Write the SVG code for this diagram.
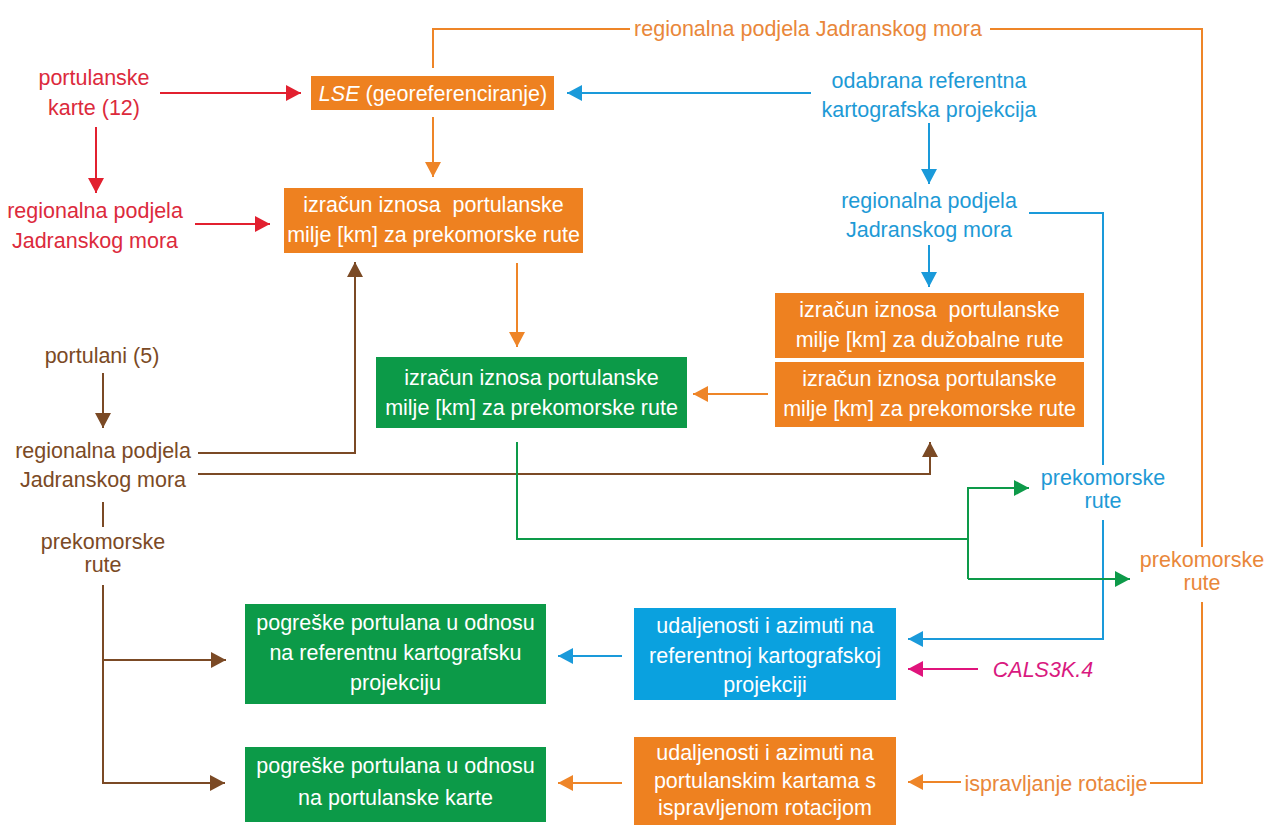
<svg xmlns="http://www.w3.org/2000/svg" width="1265" height="825" viewBox="0 0 1265 825">
<style>
text{font-family:"Liberation Sans",Arial,sans-serif;font-size:21.5px;text-anchor:middle}
.w{fill:#fff}
.red{fill:#DC2A3C}
.or{fill:#E9873A}
.bl{fill:#1E9AD6}
.br{fill:#7B4A25}
.pk{fill:#D9197F}
.c{fill:none;stroke-width:2}
.cr{stroke:#E2202F}
.co{stroke:#EE8528}
.cb{stroke:#1A9ADA}
.cbr{stroke:#7B4A25}
.cg{stroke:#0D9A49}
.cp{stroke:#E0147C}
.bo{fill:#EE8120}
.bg{fill:#0C9A48}
.bb{fill:#0AA1DF}
</style>
<defs>
<marker id="ar" viewBox="0 0 15 16" refX="15" refY="8" markerWidth="15" markerHeight="16" markerUnits="userSpaceOnUse" orient="auto"><path d="M0,0L15,8L0,16z" fill="#E2202F"/></marker>
<marker id="ao" viewBox="0 0 15 16" refX="15" refY="8" markerWidth="15" markerHeight="16" markerUnits="userSpaceOnUse" orient="auto"><path d="M0,0L15,8L0,16z" fill="#EE8528"/></marker>
<marker id="ab" viewBox="0 0 15 16" refX="15" refY="8" markerWidth="15" markerHeight="16" markerUnits="userSpaceOnUse" orient="auto"><path d="M0,0L15,8L0,16z" fill="#1A9ADA"/></marker>
<marker id="abr" viewBox="0 0 15 16" refX="15" refY="8" markerWidth="15" markerHeight="16" markerUnits="userSpaceOnUse" orient="auto"><path d="M0,0L15,8L0,16z" fill="#7B4A25"/></marker>
<marker id="ag" viewBox="0 0 15 16" refX="15" refY="8" markerWidth="15" markerHeight="16" markerUnits="userSpaceOnUse" orient="auto"><path d="M0,0L15,8L0,16z" fill="#0D9A49"/></marker>
<marker id="ap" viewBox="0 0 15 16" refX="15" refY="8" markerWidth="15" markerHeight="16" markerUnits="userSpaceOnUse" orient="auto"><path d="M0,0L15,8L0,16z" fill="#E0147C"/></marker>
</defs>
<rect width="1265" height="825" fill="#fff"/>
<g id="connectors">
<path class="c cr" d="M160,93H301" marker-end="url(#ar)"/>
<path class="c cr" d="M96,127V193" marker-end="url(#ar)"/>
<path class="c cr" d="M195,224H270" marker-end="url(#ar)"/>
<path class="c co" d="M433,68V29H630"/>
<path class="c co" d="M990,29H1202V547"/>
<path class="c co" d="M1202,602V783H1150"/>
<path class="c co" d="M433,117V177" marker-end="url(#ao)"/>
<path class="c co" d="M517,263V347" marker-end="url(#ao)"/>
<path class="c co" d="M768,394H693" marker-end="url(#ao)"/>
<path class="c co" d="M961,782H908" marker-end="url(#ao)"/>
<path class="c co" d="M622,783H558" marker-end="url(#ao)"/>
<path class="c cb" d="M811,93H567" marker-end="url(#ab)"/>
<path class="c cb" d="M929,123V184" marker-end="url(#ab)"/>
<path class="c cb" d="M929,245V287" marker-end="url(#ab)"/>
<path class="c cb" d="M1029,213H1103V465"/>
<path class="c cb" d="M1103,520V639H908" marker-end="url(#ab)"/>
<path class="c cb" d="M622,656H558" marker-end="url(#ab)"/>
<path class="c cbr" d="M103,373V428" marker-end="url(#abr)"/>
<path class="c cbr" d="M198,453H355V262" marker-end="url(#abr)"/>
<path class="c cbr" d="M198,474H930V442" marker-end="url(#abr)"/>
<path class="c cbr" d="M103,502V527"/>
<path class="c cbr" d="M103,585V783H225" marker-end="url(#abr)"/>
<path class="c cbr" d="M103,660H226" marker-end="url(#abr)"/>
<path class="c cg" d="M517,442V539H968"/>
<path class="c cg" d="M968,579V488H1029" marker-end="url(#ag)"/>
<path class="c cg" d="M968,579H1130" marker-end="url(#ag)"/>
<path class="c cp" d="M978,669H908" marker-end="url(#ap)"/>
</g>
<g id="portulanske-karte"><text class="red" x="94" y="85">portulanske</text><text class="red" x="94" y="115">karte (12)</text></g>
<g id="regionalna-red"><text class="red" x="95" y="218">regionalna podjela</text><text class="red" x="95" y="248">Jadranskog mora</text></g>
<g id="lse"><rect class="bo" x="311" y="76" width="243" height="34"/><text class="w" x="433" y="101"><tspan font-style="italic">LSE</tspan> (georeferenciranje)</text></g>
<g id="regionalna-top"><text class="or" x="808" y="36">regionalna podjela Jadranskog mora</text></g>
<g id="odabrana"><text class="bl" x="929" y="88">odabrana referentna</text><text class="bl" x="929" y="117">kartografska projekcija</text></g>
<g id="izracun-1"><rect class="bo" x="284" y="188" width="299" height="65"/><text class="w" x="433.5" y="212" xml:space="preserve">izračun iznosa  portulanske</text><text class="w" x="433.5" y="242">milje [km] za prekomorske rute</text></g>
<g id="regionalna-blue"><text class="bl" x="929" y="208">regionalna podjela</text><text class="bl" x="929" y="237">Jadranskog mora</text></g>
<g id="izracun-duzobalne"><rect class="bo" x="775" y="293" width="309" height="65"/><text class="w" x="929.5" y="317" xml:space="preserve">izračun iznosa  portulanske</text><text class="w" x="929.5" y="347">milje [km] za dužobalne rute</text></g>
<g id="izracun-prekomorske-or"><rect class="bo" x="775" y="362" width="309" height="65"/><text class="w" x="929.5" y="386">izračun iznosa portulanske</text><text class="w" x="929.5" y="416">milje [km] za prekomorske rute</text></g>
<g id="izracun-green"><rect class="bg" x="376" y="357" width="311" height="71"/><text class="w" x="531.5" y="385">izračun iznosa portulanske</text><text class="w" x="531.5" y="415">milje [km] za prekomorske rute</text></g>
<g id="portulani"><text class="br" x="102" y="363">portulani (5)</text></g>
<g id="regionalna-brown"><text class="br" x="103" y="458">regionalna podjela</text><text class="br" x="103" y="487">Jadranskog mora</text></g>
<g id="prekomorske-brown"><text class="br" x="103" y="549">prekomorske</text><text class="br" x="103" y="572">rute</text></g>
<g id="prekomorske-blue"><text class="bl" x="1103" y="485">prekomorske</text><text class="bl" x="1103" y="508">rute</text></g>
<g id="prekomorske-orange"><text class="or" x="1202" y="567">prekomorske</text><text class="or" x="1202" y="590">rute</text></g>
<g id="pogreske-ref"><rect class="bg" x="245" y="604" width="301" height="100"/><text class="w" x="395.5" y="630">pogreške portulana u odnosu</text><text class="w" x="395.5" y="660">na referentnu kartografsku</text><text class="w" x="395.5" y="690">projekciju</text></g>
<g id="pogreske-karte"><rect class="bg" x="245" y="747" width="301" height="75"/><text class="w" x="395.5" y="773">pogreške portulana u odnosu</text><text class="w" x="395.5" y="805">na portulanske karte</text></g>
<g id="udaljenosti-ref"><rect class="bb" x="634" y="608" width="262" height="92"/><text class="w" x="765" y="633">udaljenosti i azimuti na</text><text class="w" x="765" y="663">referentnoj kartografskoj</text><text class="w" x="765" y="692">projekciji</text></g>
<g id="cals"><text class="pk" x="1043" y="677" font-style="italic">CALS3K.4</text></g>
<g id="udaljenosti-port"><rect class="bo" x="634" y="737" width="262" height="88"/><text class="w" x="765" y="760">udaljenosti i azimuti na</text><text class="w" x="765" y="788">portulanskim kartama s</text><text class="w" x="765" y="815">ispravljenom rotacijom</text></g>
<g id="ispravljanje"><text class="or" x="1056" y="791">ispravljanje rotacije</text></g>
</svg>
